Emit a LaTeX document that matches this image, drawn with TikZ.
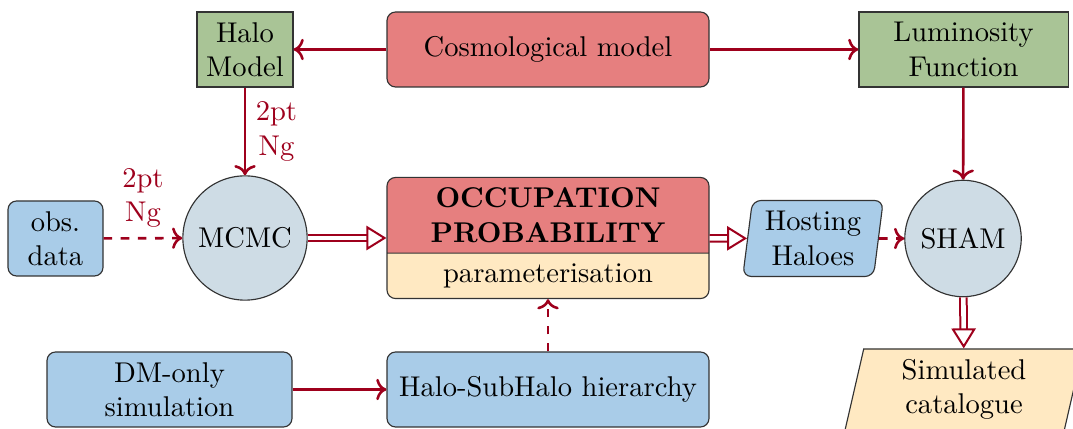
\documentclass[tikz,border=0pt]{standalone}
\usepackage{xcolor}
\usepackage{tikz}
\usetikzlibrary{shapes.geometric, shapes.multipart, arrows.meta}

\definecolor{cosmored}{RGB}{230,127,127}
\definecolor{modelgreen}{RGB}{169,196,150}
\definecolor{simblue}{RGB}{169,204,232}
\definecolor{paramyellow}{RGB}{255,233,194}
\definecolor{circgray}{RGB}{206,220,229}
\definecolor{linkred}{RGB}{158,0,28}

\begin{document}
\begin{tikzpicture}[x=0.35pt, y=0.35pt,
  box/.style={draw=black!80, minimum height=26.25pt, inner sep=3pt, align=center},
  greenbox/.style={box, fill=modelgreen},
  redbox/.style={box, fill=cosmored, rounded corners=3pt},
  bluebox/.style={box, fill=simblue, rounded corners=3pt},
  occbox/.style={draw=black!80, rectangle split, rectangle split parts=2,
    rectangle split part fill={cosmored, paramyellow},
    rounded corners=3pt, minimum width=112.7pt, inner sep=3.5pt, align=center},
  slanted/.style={draw=black!80, trapezium, trapezium stretches=true, align=center, inner sep=2pt},
  bubble/.style={draw=black!80, circle, fill=circgray, inner sep=4pt},
  flow/.style={->, linkred, line width=0.9pt},
  flowdash/.style={flow, dashed},
  dflow/.style={linkred, double=white, double distance=1.6pt, line width=0.7pt,
    -{Triangle[open, length=7pt, width=8.5pt]}},
  tag/.style={linkred, align=center}
]

\useasboundingbox (0,0) rectangle (1073,429);

% top row
\node[greenbox, minimum width=33.6pt] (halo) at (245,379.5) {Halo\\Model};
\node[redbox, minimum width=112.7pt] (cosmo) at (548,379.5) {Cosmological model};
\node[greenbox, minimum width=73.2pt] (lumfn) at (963.5,379.5) {Luminosity\\Function};

% middle row
\node[bluebox, minimum width=33.25pt] (obs) at (55.5,190.5) {obs.\\data};
\node[bubble] (mcmc) at (245,191) {MCMC};
\node[occbox] (occ) at (548,191) {\textbf{OCCUPATION}\\\textbf{PROBABILITY}
  \nodepart{two} parameterisation};
\node[slanted, fill=simblue, rounded corners=3pt, trapezium left angle=82.5,
  trapezium right angle=97.5, minimum width=49.35pt, minimum height=26.6pt]
  (host) at (813,190.5) {Hosting\\Haloes};
\node[bubble] (sham) at (963,190.5) {SHAM};

% bottom row
\node[bluebox, minimum width=85.75pt] (dm) at (169.5,39.5) {DM-only\\simulation};
\node[bluebox, minimum width=112.7pt] (hier) at (548,39.5) {Halo-SubHalo hierarchy};
\node[slanted, fill=paramyellow, trapezium left angle=80, trapezium right angle=100,
  minimum width=83.3pt, minimum height=28.35pt] (sim) at (964,39.5) {Simulated\\catalogue};

% links
\draw[flow] (cosmo) -- (halo);
\draw[flow] (cosmo) -- (lumfn);
\draw[flow] (halo) -- (mcmc) node[midway, right, tag] {2pt\\Ng};
\draw[flow] (lumfn) -- (sham);
\draw[flowdash] (obs) -- (mcmc) node[midway, above, tag] {2pt\\Ng};
\draw[dflow] (mcmc) -- (occ);
\draw[dflow] (occ) -- (host);
\draw[flowdash] (host) -- (sham);
\draw[dflow] (sham) -- (sim);
\draw[flow] (dm) -- (hier);
\draw[flowdash] (hier) -- (occ);

\end{tikzpicture}
\end{document}
